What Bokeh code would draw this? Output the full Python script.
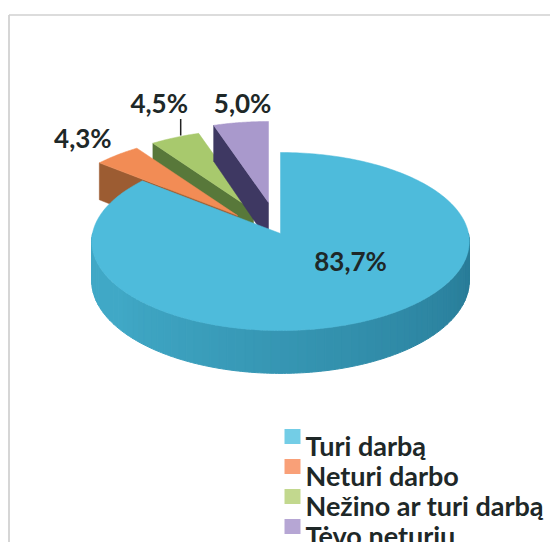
import numpy as np
from bokeh.plotting import figure
from bokeh.models import Range1d, ColumnDataSource
from bokeh.core.properties import value
from bokeh.embed import file_html
from bokeh.resources import INLINE

# ---- data ----
categories = ["Turi darbą", "Neturi darbo", "Nežino ar turi darbą", "Tėvo neturiu"]
shares = [83.7, 4.3, 4.5, 5.0]
labels = ["83,7%", "4,3%", "4,5%", "5,0%"]

# ---- style ----
top_colors = ["#4EBBDB", "#F28C55", "#A8C96D", "#A999CC"]
face_colors = ["#2F93B0", "#9C5C32", "#58783A", "#3E3862"]
legend_colors = ["#73CDE6", "#F9A078", "#C2D88E", "#B6A6D4"]
side_light = np.array([0x40, 0xA8, 0xC6])
side_dark = np.array([0x28, 0x7C, 0x98])
FONT = "Lato"
TXT = "#1E2828"

CX, CY = 280, 233          # pie centre (px)
A, B = 188, 88.3           # ellipse semi-axes (px)
P = 0.09                   # perspective factor
T = 39                     # thickness (px)
explode = [(0, 0), (-43, -18), (-27, -23), (-12, -31)]
label_r = [0.47, 1.31, 1.48, 1.27]
label_dtheta = [25.0, 0.0, -4.4, -2.3]
draw_order = [2, 1, 3]     # small slices, back to front; blue last

W, H = 550, 542
p = figure(width=W, height=H, output_backend="svg", toolbar_location=None,
           x_range=Range1d(0, W), y_range=Range1d(H, 0),
           min_border=0, outline_line_color=None)
p.axis.visible = False
p.grid.visible = False
p.background_fill_color = "white"


def proj(X, Y, z, off):
    X = np.asarray(X, float)
    Y = np.asarray(Y, float)
    f = 1 + P * Y
    return (CX + off[0] + A * X / f,
            CY + off[1] - B * Y / f + z * T / f)


total = sum(shares)
starts, ends = [], []
acc = 0.0
for s in shares:
    st = 90 - acc / total * 360
    en = st - s / total * 360
    starts.append(st)
    ends.append(en)
    acc += s

# chart frame lines
p.line([8.5, 8.5], [H, 14.5], line_color="#C8C8C8", line_width=1.5)
p.line([8.5, W], [14.5, 14.5], line_color="#D0D0D0", line_width=1.5)


def draw_small(i):
    off = explode[i]
    st, en = np.radians(starts[i]), np.radians(ends[i])
    fx, fy = [], []
    for (X, Y, z) in [(0, 0, 0), (np.cos(st), np.sin(st), 0),
                      (np.cos(st), np.sin(st), 1), (0, 0, 1)]:
        x, y = proj(X, Y, z, off)
        fx.append(float(x)); fy.append(float(y))
    p.patch(fx, fy, fill_color=face_colors[i], line_color=face_colors[i], line_width=0.5)
    th = np.linspace(st, en, 40)
    x, y = proj(np.cos(th), np.sin(th), 0, off)
    x0, y0 = proj(0, 0, 0, off)
    p.patch([float(x0)] + list(x), [float(y0)] + list(y),
            fill_color=top_colors[i], line_color=top_colors[i], line_width=0.5)


for i in draw_order:
    draw_small(i)

# big slice: front side wall with shading, then top
off = explode[0]
segs = np.linspace(np.pi, 2 * np.pi, 73)
for k in range(len(segs) - 1):
    a0, a1 = segs[k], segs[k + 1]
    tt = np.linspace(a0, a1, 4)
    xt, yt = proj(np.cos(tt), np.sin(tt), 0, off)
    xb, yb = proj(np.cos(tt[::-1]), np.sin(tt[::-1]), 1, off)
    frac = k / (len(segs) - 2)
    w = min(1.0, max(0.0, (frac - 0.2) / 0.75))
    c = (side_light * (1 - w) + side_dark * w).astype(int)
    col = "#%02X%02X%02X" % tuple(c)
    p.patch(list(xt) + list(xb), list(yt) + list(yb), fill_color=col,
            line_color=col, line_width=1)

th = np.linspace(np.radians(starts[0]), np.radians(ends[0]), 240)
x, y = proj(np.cos(th), np.sin(th), 0, off)
x0, y0 = proj(0, 0, 0, off)
p.patch([float(x0)] + list(x), [float(y0)] + list(y),
        fill_color=top_colors[0], line_color=top_colors[0], line_width=0.5)

# data labels
lx, ly = [], []
for i in range(len(shares)):
    mid = np.radians((starts[i] + ends[i]) / 2 + label_dtheta[i])
    x, y = proj(label_r[i] * np.cos(mid), label_r[i] * np.sin(mid), 0, explode[i])
    lx.append(float(x)); ly.append(float(y))
src = ColumnDataSource(dict(x=lx, y=ly, t=labels))
p.text("x", "y", text="t", source=src, text_font=value(FONT), text_font_style="bold",
       text_font_size="26px", text_color=TXT, text_align="center", text_baseline="middle")

# leader line for the green slice label
gi = 2
ang = np.radians((starts[gi] + ends[gi]) / 2 - 2)
ex, ey = proj(np.cos(ang), np.sin(ang), 0, explode[gi])
p.line([float(ex), float(ex)], [float(ey) - 1, ly[gi] + 16], line_color="#222222", line_width=1.5)

# legend
LX, LY0, DY = 305, 445, 30
leg_y = [LY0 + k * DY for k in range(len(categories))]
lsrc = ColumnDataSource(dict(x=[LX] * len(categories), y=leg_y, t=categories,
                             sx=[LX - 13] * len(categories), sy=[v - 9 for v in leg_y],
                             c=legend_colors))
p.rect("sx", "sy", width=16, height=15, source=lsrc, fill_color="c", line_color=None)
p.text("x", "y", text="t", source=lsrc, text_font=value(FONT), text_font_style="bold",
       text_font_size="27px", text_color=TXT, text_align="left", text_baseline="alphabetic")

open("out.html", "w").write(file_html(p, INLINE))
